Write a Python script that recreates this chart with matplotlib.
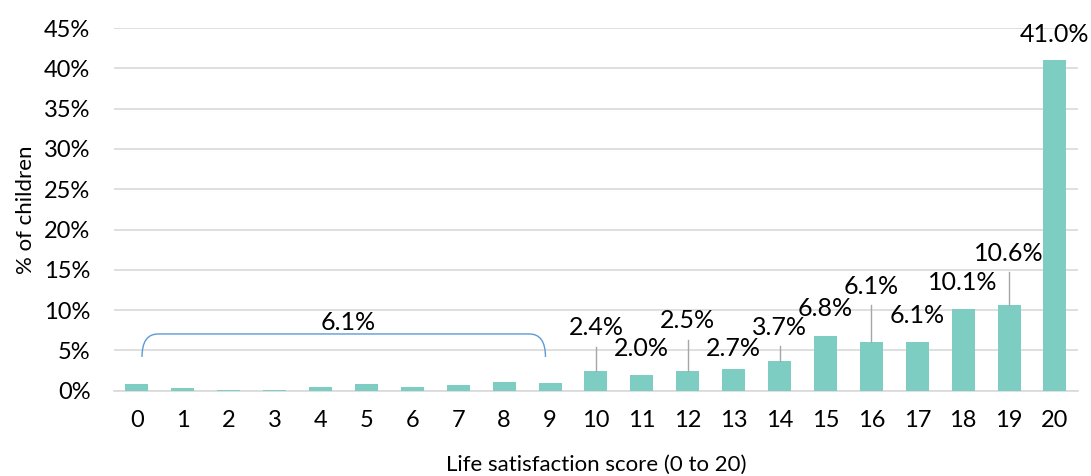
import matplotlib.pyplot as plt
from matplotlib.path import Path
from matplotlib.patches import PathPatch

plt.rcParams["font.family"] = ["Lato", "DejaVu Sans"]

scores = list(range(21))
pct = [0.9, 0.3, 0.15, 0.15, 0.5, 0.8, 0.5, 0.7, 1.1, 1.0,
       2.4, 2.0, 2.5, 2.7, 3.7, 6.8, 6.1, 6.1, 10.1, 10.6, 41.0]
low_total = 6.1

# label placement (data y of label centre) for scores 10..20
label_y = {10: 7.8, 11: 5.3, 12: 8.7, 13: 5.2, 14: 7.9, 15: 10.2,
           16: 12.9, 17: 9.3, 18: 13.4, 19: 17.0, 20: 44.2}
# leader line tops
leader_top = {10: 5.4, 12: 6.3, 14: 5.5, 16: 10.65, 19: 14.8}

fig = plt.figure(figsize=(10.91, 4.76), dpi=100)
ax = fig.add_axes([0.1045, 0.179, 0.8835, 0.762])

ax.bar(scores, pct, width=0.5, color="#7dcdc3", zorder=3)

ax.set_ylim(0, 45)
ax.set_xlim(-0.5, 20.5)
ax.set_yticks(range(0, 46, 5))
ax.set_yticklabels([f"{v}%" for v in range(0, 46, 5)])
ax.set_xticks(scores)
ax.set_xticklabels([str(s) for s in scores])
ax.tick_params(axis="both", length=0, labelsize=17, colors="black")
ax.tick_params(axis="y", pad=17)
ax.tick_params(axis="x", pad=14)
ax.grid(axis="y", color="#d9d9d9", linewidth=1.2, zorder=0)
for s in ["top", "right", "left"]:
    ax.spines[s].set_visible(False)
ax.spines["bottom"].set_color("#d9d9d9")
ax.spines["bottom"].set_linewidth(1.2)

for i, yl in label_y.items():
    ax.text(i, yl, f"{pct[i]:.1f}%", ha="center", va="center", fontsize=18, zorder=5)
for i, top in leader_top.items():
    ax.plot([i, i], [pct[i], top], color="#a6a6a6", linewidth=1.0, zorder=4)

# bracket over scores 0-9
x0, x1, yb, yt, rx = 0.11, 8.9, 4.2, 7.05, 0.35
verts = [(x0, yb), (x0, yt), (x0 + rx, yt), (x1 - rx, yt), (x1, yt), (x1, yb)]
codes = [Path.MOVETO, Path.CURVE3, Path.CURVE3, Path.LINETO, Path.CURVE3, Path.CURVE3]
ax.add_patch(PathPatch(Path(verts, codes), fill=False, edgecolor="#5b9bd5", linewidth=1.0, zorder=4))
ax.text(4.6, 8.5, f"{low_total:.1f}%", ha="center", va="center", fontsize=18)

ax.set_xlabel("Life satisfaction score (0 to 20)", fontsize=16, labelpad=17)
ax.set_ylabel("% of children", fontsize=16, labelpad=6)

fig.savefig("out.png", dpi=100)
